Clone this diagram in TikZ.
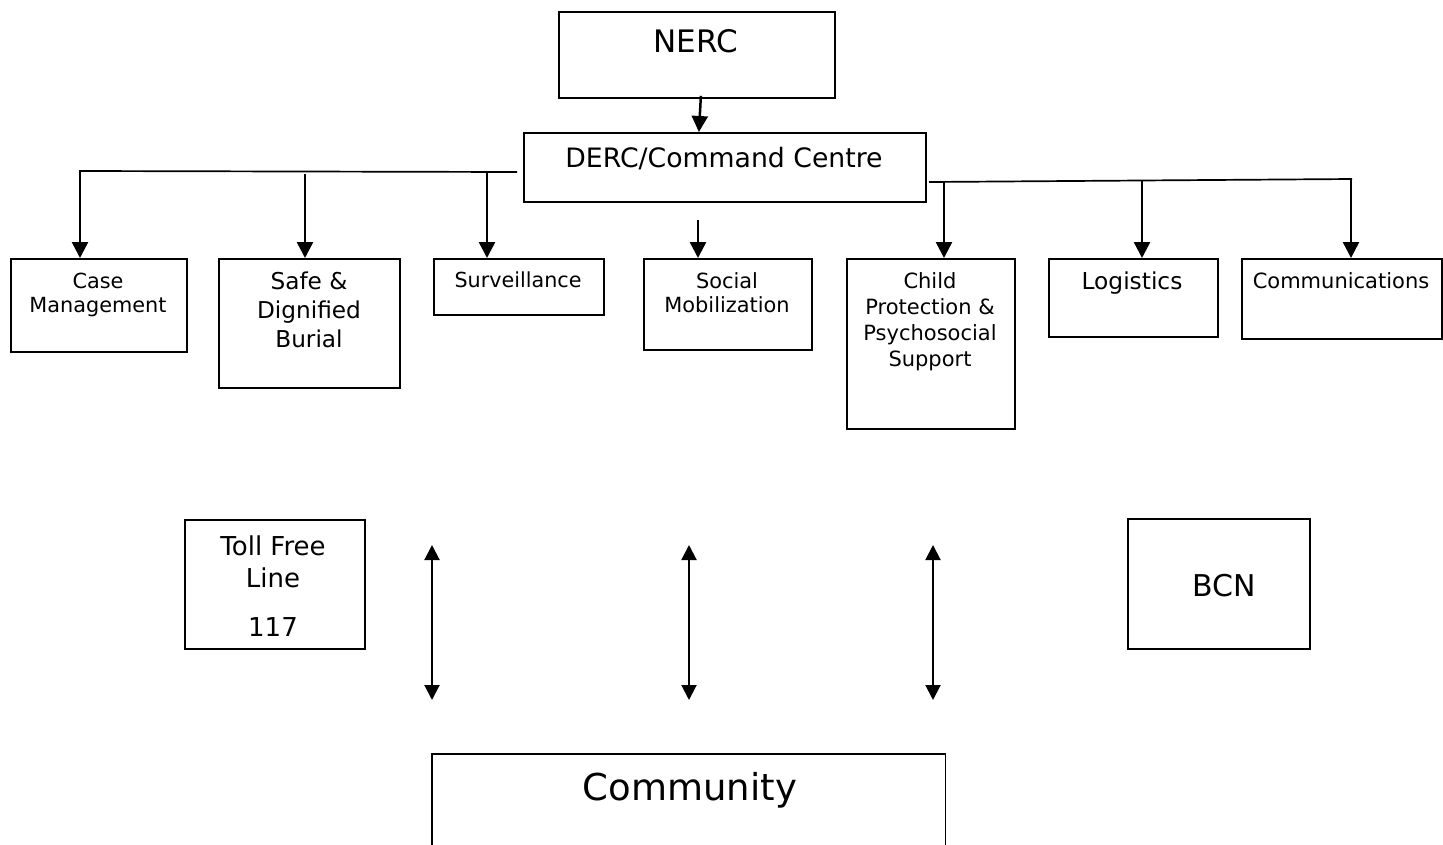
\documentclass[tikz,border=0pt]{standalone}
\usepackage{fontspec}
\setmainfont{DejaVu Sans}
\usetikzlibrary{arrows.meta,calc}
\tikzset{
  box/.style={draw, line width=1.8pt, inner sep=0pt, anchor=north west},
  lbl/.style={inner sep=0pt, anchor=north, align=center},
  arr/.style={line width=2.5pt, -{Triangle[length=16pt,width=16pt]}},
  darr/.style={line width=2pt, {Triangle[length=15pt,width=15pt]}-{Triangle[length=15pt,width=15pt]}},
  bus/.style={line width=1.7pt},
}
\newcommand{\fs}[2]{\fontsize{#1}{#2}\selectfont}
\begin{document}
\begin{tikzpicture}[x=1pt,y=-1pt]
\useasboundingbox (0,0) rectangle (1443,844);
% boxes
\node[box, minimum width=276pt, minimum height=86pt] (nerc) at (558,11) {};
\node[box, minimum width=402pt, minimum height=69pt] (derc) at (523,132) {};
\node[box, minimum width=176pt, minimum height=93pt] (case) at (10,258) {};
\node[box, minimum width=181pt, minimum height=129pt] (safe) at (218,258) {};
\node[box, minimum width=170pt, minimum height=56pt] (surv) at (433,258) {};
\node[box, minimum width=168pt, minimum height=91pt] (soc) at (643,258) {};
\node[box, minimum width=168pt, minimum height=170pt] (child) at (846,258) {};
\node[box, minimum width=169pt, minimum height=78pt] (logi) at (1048,258) {};
\node[box, minimum width=200pt, minimum height=80pt] (comm) at (1241,258) {};
\node[box, minimum width=180pt, minimum height=129pt] (toll) at (184,519) {};
\node[box, minimum width=182pt, minimum height=130pt] (bcn) at (1127,518) {};
\node[inner sep=0pt, anchor=north west, minimum width=513pt, minimum height=92pt] (cmty) at (432,754) {};
\draw[line width=1.8pt] (cmty.south west) -- (cmty.north west) -- (cmty.north east) -- (cmty.south east);
% labels
\node[lbl, font={\fs{31}{36}}] (nercT) at (696,29) {NERC};
\node[lbl, font={\fs{26.7}{31}}] (dercT) at (724,147) {DERC/Command Centre};
\node[lbl, font={\fs{20.8}{24}}] (caseT) at (98,273) {Case\\Management};
\node[lbl, font={\fs{23.2}{29}}] (safeT) at (309,272) {Safe \&\\Dignified\\Burial};
\node[lbl, font={\fs{20.7}{24}}] (survT) at (518,272) {Surveillance};
\node[lbl, font={\fs{20.9}{24}}] (socT) at (727,272) {Social\\Mobilization};
\node[lbl, font={\fs{21}{26}}] (childT) at (930,272) {Child\\Protection \&\\Psychosocial\\Support};
\node[lbl, font={\fs{23.3}{28}}] (logiT) at (1132,272) {Logistics};
\node[lbl, font={\fs{21}{25}}] (commT) at (1341,272) {Communications};
\node[lbl, font={\fs{26}{32}}] (tollT) at (273,536) {Toll Free\\Line\\[17pt]117};
\node[lbl, font={\fs{30}{36}}] (bcnT) at (1224,574) {BCN};
\node[lbl, font={\fs{37}{44}}] (cmtyT) at (690,772) {Community};
% connectors
\draw[arr] ($(nerc.south)+(4,-3)$) -- ($(derc.north)+(-26,0)$);
\coordinate (bL) at (80,171);
\coordinate (bLe) at (517,172);
\draw[bus] (bL) -- (bLe);
\draw[arr] ($(bL)+(0,-0.8)$) -- (bL |- case.north);
\coordinate (sTop) at (305,174);
\draw[arr] (sTop) -- (sTop |- safe.north);
\coordinate (vTop) at (487,172);
\draw[arr] (vTop) -- (vTop |- surv.north);
\coordinate (mTop) at (698,220);
\draw[arr] (mTop) -- (mTop |- soc.north);
\coordinate (bR) at (929,182);
\coordinate (bRe) at (1352,179);
\draw[bus] (bR) -- (bRe);
\coordinate (cTop) at (944,182);
\draw[arr] (cTop) -- (cTop |- child.north);
\coordinate (lTop) at (1142,180.5);
\draw[arr] (lTop) -- (lTop |- logi.north);
\coordinate (kTop) at (1351,179);
\draw[arr] ($(kTop)+(0,-0.8)$) -- (kTop |- comm.north);
% double arrows
\coordinate (d1a) at (432,545); \coordinate (d1b) at (432,700);
\coordinate (d2a) at (689,545); \coordinate (d2b) at (689,700);
\coordinate (d3a) at (933,545); \coordinate (d3b) at (933,700);
\draw[darr] (d1a) -- (d1b);
\draw[darr] (d2a) -- (d2b);
\draw[darr] (d3a) -- (d3b);
\end{tikzpicture}
\end{document}
